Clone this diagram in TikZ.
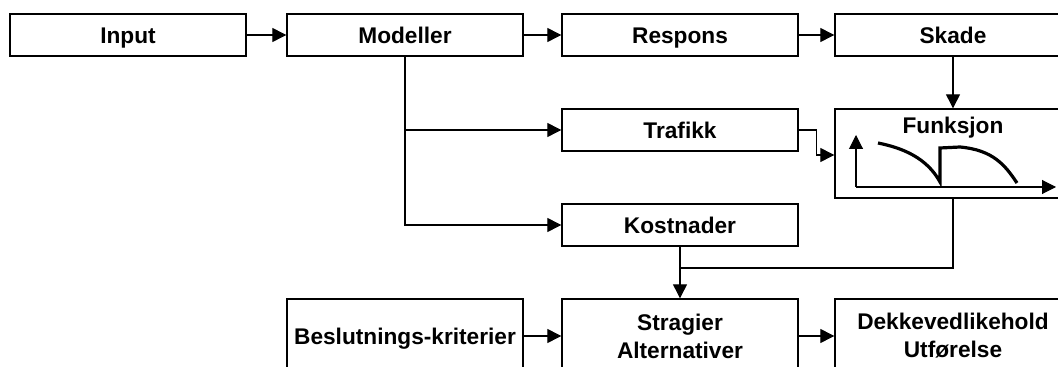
\documentclass[tikz,border=0pt]{standalone}
\usepackage{fontspec}
\setmainfont{Liberation Sans}
\usepackage{tikz}
\usetikzlibrary{arrows.meta,positioning,calc}
\tikzset{
  blk/.style={draw=black, line width=1pt, fill=white, align=center, inner sep=2pt,
              minimum width=177pt, minimum height=31.5pt,
              font=\fontsize{17}{21}\selectfont\bfseries},
  oneline/.style={text height=12.2pt, text depth=0pt},
  ttl/.style={font=\fontsize{17}{21}\selectfont\bfseries, inner sep=0pt},
  flow/.style={-{Triangle[length=10.5pt, width=10.5pt]}, line width=0.8pt},
  wire/.style={line width=0.8pt},
}
\begin{document}
\begin{tikzpicture}[x=0.75pt, y=-0.75pt]
    \clip (0,0) rectangle (1058,367);
    % top row
    \foreach \n/\t/\x in {input/Input/128, modeller/Modeller/405, respons/Respons/680, skade/Skade/953}
      { \node[blk, oneline] (\n) at (\x,35) {\t}; }
    \foreach \a/\b in {input/modeller, modeller/respons, respons/skade}
      { \draw[flow] (\a) -- (\b); }
    \node[blk, oneline] (trafikk) at (680,130) {Trafikk};
    \node[blk, oneline] (kostnad) at (680,225) {Kostnader};
    \node[blk, minimum height=66.75pt] (funksjon) at (953,153.5) {};
    \node[ttl, oneline] (funktitle) at (953,125) {Funksjon};
    % bottom row
    \node[blk, oneline, minimum height=55.5pt] (beslut) at (405,336) {Beslutnings-kriterier};
    \node[blk, minimum height=55.5pt] (strat) at (680,336) {Stragier\\Alternativer};
    \node[blk, minimum height=55.5pt] (dekke) at (953,336) {Dekkevedlikehold\\Utførelse};
    \coordinate (join) at (680,268);
    \draw[flow] (skade) -- (funksjon);
    \draw[flow] (modeller.south) |- (trafikk);
    \draw[flow] (modeller.south) |- (kostnad);
    \draw[flow] (trafikk.east) -- ++(18,0) |- ($(funksjon.west)+(0,1.5)$);
    \draw[wire] (funksjon.south) |- (join);
    \draw[flow] (kostnad) -- (strat);
    \draw[flow] (beslut) -- (strat);
    \draw[flow] (strat) -- (dekke);
    % sketch inside Funksjon
    \draw[flow] (856,187) -- (856,135);
    \draw[flow] (856,187) -- (1056,187);
    \draw[line width=2.4pt] (878,143) .. controls (903,148) and (927,158) .. (940,182)
      -- (940,148) -- (960,147) .. controls (993,150) and (1005,165) .. (1017,183);
\end{tikzpicture}
\end{document}
